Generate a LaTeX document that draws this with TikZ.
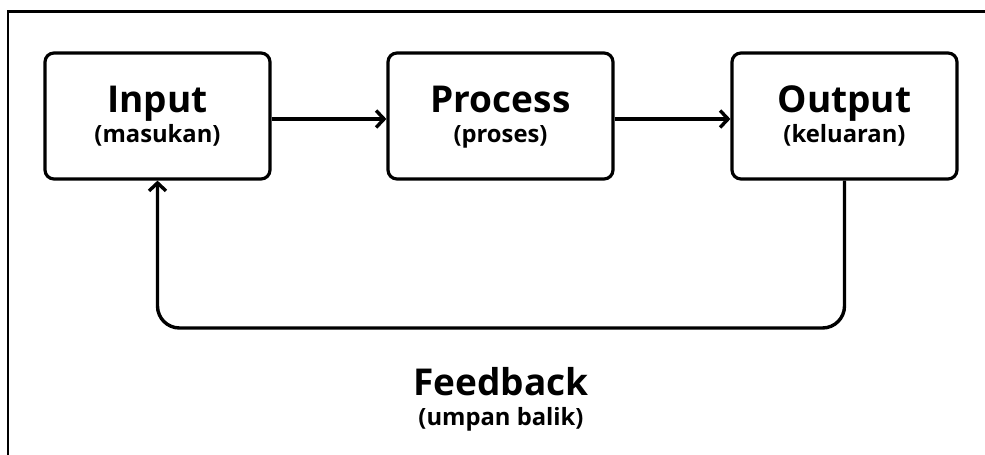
\documentclass[tikz,border=0pt]{standalone}
\usepackage{fontspec}
\setmainfont{Open Sans}
\usetikzlibrary{arrows.meta}
\begin{document}
\begin{tikzpicture}[x=1pt,y=-1pt,
  box/.style={draw, line width=3.2pt, rounded corners=9pt, minimum width=225pt, minimum height=126pt, inner sep=0pt},
  ttl/.style={anchor=base, font=\fontsize{37}{43}\selectfont\bfseries, inner sep=0pt},
  sub/.style={anchor=base, font=\fontsize{23.8}{28}\selectfont\bfseries, inner sep=0pt},
  arr/.style={line width=3.4pt, -{Straight Barb[length=8pt,width=17pt,line width=3.4pt]}}]
\useasboundingbox (0,0) rectangle (985,455);
\draw[line width=2.2pt] (8,455) -- (8,11.5) -- (985,11.5);
\node[box] (in)  at (157.5,116) {};
\node[box] (pr)  at (500.5,116) {};
\node[box] (out) at (844.5,116) {};
\node[ttl] (inT) at (157.5,112) {Input};
\node[sub] (inS) at (157.5,142) {(masukan)};
\node[ttl] (prT) at (500.5,112) {Process};
\node[sub] (prS) at (500.5,142) {(proses)};
\node[ttl] (outT) at (844.5,112) {Output};
\node[sub] (outS) at (844.5,142) {(keluaran)};
\node[ttl] (fbT) at (501,395) {Feedback};
\node[sub] (fbS) at (501,425) {(umpan balik)};
\coordinate (fb) at (500,328);
\draw[arr] ([yshift=-3pt]in.east) -- ([yshift=-3pt]pr.west);
\draw[arr] ([yshift=-3pt]pr.east) -- ([yshift=-3pt]out.west);
\draw[arr, rounded corners=22pt] (out.south) |- (fb) -| (in.south);
\end{tikzpicture}
\end{document}
